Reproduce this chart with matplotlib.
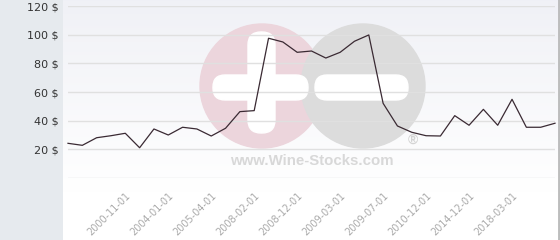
import matplotlib.pyplot as plt
import numpy as np
from matplotlib.patches import Circle, FancyBboxPatch

# price per bottle, one point per listing
prices = [24.2, 22.8, 28.1, 29.5, 31.2, 21.1, 34.2, 30.0, 35.4, 34.2,
          29.3, 34.7, 46.3, 47.0, 97.5, 94.9, 87.7, 88.6, 83.7, 87.7,
          95.4, 99.8, 52.1, 36.3, 31.9, 29.5, 29.3, 43.5, 36.8, 47.9,
          36.8, 54.9, 35.4, 35.4, 38.2]
tick_idx = [4, 7, 10, 13, 16, 19, 22, 25, 28, 31]
tick_dates = ['2000-11-01', '2004-01-01', '2005-04-01', '2008-02-01',
              '2008-12-01', '2009-03-01', '2009-07-01', '2010-12-01',
              '2014-12-01', '2018-03-01']
y_ticks = [20, 40, 60, 80, 100, 120]

W, H = 560, 240
fig = plt.figure(figsize=(W / 100, H / 100), dpi=100, facecolor='#e6eaee')

# background: gradient panel + watermark, in pixel coords
bg = fig.add_axes([0, 0, 1, 1], zorder=0)
bg.set_xlim(0, W)
bg.set_ylim(H, 0)
bg.axis('off')
grad = np.linspace(0, 1, 256).reshape(-1, 1)
top = np.array([0.941, 0.945, 0.965])
col = top + (1 - top) * np.clip(grad * 1.25, 0, 1)
img = np.repeat(col[:, None, :], 2, axis=1)
bg.imshow(img, extent=[63, 559, H, 0], aspect='auto', zorder=0)
bg.plot([559, 559], [0, H], color='#b4b4b4', lw=1.2, zorder=1)

bg.add_patch(Circle((262, 86), 62, color='#ecd5dc', zorder=2))
bg.add_patch(Circle((363, 86), 62, color='#dcdcdc', zorder=3))
bg.add_patch(FancyBboxPatch((248, 32), 27, 101, boxstyle='round,pad=0,rounding_size=13',
                            color='white', zorder=4))
bg.add_patch(FancyBboxPatch((213, 75), 95, 25, boxstyle='round,pad=0,rounding_size=12',
                            color='white', zorder=4))
bg.add_patch(FancyBboxPatch((315, 75), 93, 25, boxstyle='round,pad=0,rounding_size=12',
                            color='white', zorder=4))
bg.text(312, 161, 'www.Wine-Stocks.com', ha='center', va='center', color='#d8d8d8',
        fontsize=10.8, fontweight='bold', family='Liberation Sans', zorder=4)
bg.text(413, 140, '®', ha='center', va='center', color='#d4d4d4',
        fontsize=10, fontweight='bold', family='Liberation Sans', zorder=4)

# main chart
ax = fig.add_axes([68 / W, 1 - 178 / H, (555 - 68) / W, (178 - 6) / H], zorder=1)
ax.patch.set_alpha(0)
ax.set_xlim(0, len(prices) - 1)
ax.set_ylim(0, 120)
for s in ax.spines.values():
    s.set_visible(False)

ax.set_yticks(y_ticks)
ax.set_yticklabels([f'{v} $' for v in y_ticks], fontsize=8, color='#333333')
ax.tick_params(axis='y', length=0, pad=6.5)
ax.grid(axis='y', color='#e0e0e0', lw=1)
ax.axhline(0, color='#e0e0e0', lw=1)

ax.set_xticks(tick_idx)
ax.set_xticklabels(tick_dates, rotation=45, ha='right', va='top',
                   rotation_mode='anchor', fontsize=7, color='#aaaaaa')
for lbl in ax.get_xticklabels():
    lbl.set_x(lbl.get_position()[0])
ax.tick_params(axis='x', length=0, pad=9)

ax.plot(range(len(prices)), prices, color='#3a2a33', lw=0.9, clip_on=False)

fig.savefig('out.png', dpi=100, facecolor=fig.get_facecolor())
